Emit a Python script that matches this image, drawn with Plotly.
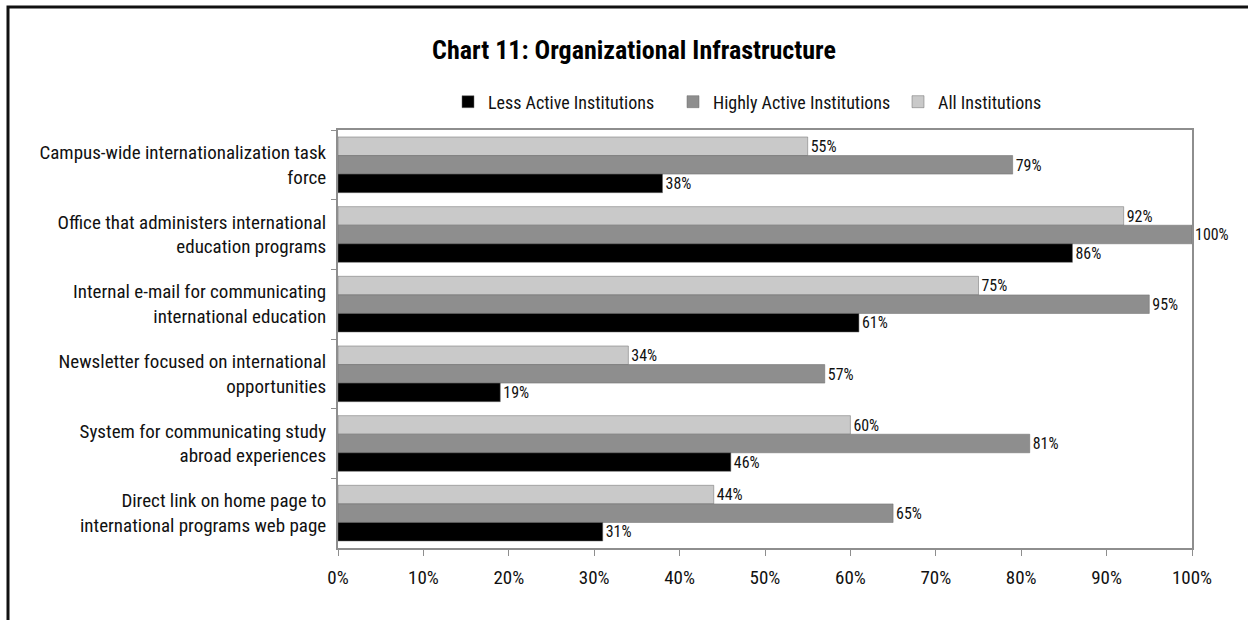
import plotly.graph_objects as go

categories = [
    "Campus-wide internationalization task<br>force",
    "Office that administers international<br>education programs",
    "Internal e-mail for communicating<br>international education",
    "Newsletter focused on international<br>opportunities",
    "System for communicating study<br>abroad experiences",
    "Direct link on home page to<br>international programs web page",
]
less_active = [0.38, 0.86, 0.61, 0.19, 0.46, 0.31]
highly_active = [0.79, 1.00, 0.95, 0.57, 0.81, 0.65]
all_inst = [0.55, 0.92, 0.75, 0.34, 0.60, 0.44]

# drawn top-to-bottom within each group: All, Highly, Less
series = [
    ("All Institutions", all_inst, "#c9c9c9"),
    ("Highly Active Institutions", highly_active, "#8e8e8e"),
    ("Less Active Institutions", less_active, "#000000"),
]

FONT = "Roboto Condensed, Liberation Sans Narrow, DejaVu Sans Condensed, Arial Narrow, sans-serif"

fig = go.Figure()
for name, vals, col in series:
    fig.add_trace(go.Bar(
        y=categories, x=vals, name=name, orientation="h",
        marker=dict(color=col, line=dict(color="#6a6a6a", width=0.5)),
        texttemplate="%{x:.0%}", textposition="outside",
        textfont=dict(size=18, color="#111111", family=FONT),
        cliponaxis=False,
    ))

W, H = 1248, 620
L, R, T, B = 338, 56, 130, 72
pw, ph = W - L - R, H - T - B

def px_to_paper_x(px):
    return (px - L) / pw

def px_to_paper_y(py):
    return 1 + (T - py) / ph

fig.update_layout(
    width=W, height=H,
    margin=dict(l=L, r=R, t=T, b=B),
    paper_bgcolor="white", plot_bgcolor="white",
    font=dict(family=FONT, size=18, color="#111111"),
    barmode="group", bargap=0.2, bargroupgap=0,
    title=dict(text="<b>Chart 11: Organizational Infrastructure</b>",
               x=634 / W, xanchor="center", y=1 - 50 / H, yanchor="middle",
               font=dict(family=FONT, size=26, color="#000000")),
    legend=dict(orientation="h", x=px_to_paper_x(448), xanchor="left",
                y=px_to_paper_y(102), yanchor="middle",
                font=dict(size=18, family=FONT), traceorder="reversed",
                itemwidth=30, entrywidth=180, entrywidthmode="pixels",
                bgcolor="rgba(0,0,0,0)"),
    showlegend=True,
)
fig.update_xaxes(range=[0, 1], dtick=0.1, tickformat=".0%", showgrid=False,
                 zeroline=False, showline=True, mirror=True, linecolor="#8e8e8e",
                 linewidth=2, ticks="outside", ticklen=6, tickcolor="#8e8e8e",
                 tickfont=dict(size=19), ticklabelstandoff=5, fixedrange=True)
fig.update_yaxes(autorange="reversed", showgrid=False, showline=True, mirror=True,
                 linecolor="#8e8e8e", linewidth=2, ticks="outside", ticklen=5,
                 tickcolor="#8e8e8e", tickson="boundaries", tickfont=dict(size=19),
                 ticklabelstandoff=6)

# outer frame (left and top visible in the reference)
fig.add_shape(type="rect", xref="paper", yref="paper",
              x0=px_to_paper_x(8), x1=px_to_paper_x(W + 20),
              y0=px_to_paper_y(H + 20), y1=px_to_paper_y(7),
              line=dict(color="#111111", width=3), fillcolor="rgba(0,0,0,0)",
              layer="below")

fig.write_html("out.html", config={"displayModeBar": False},
               post_script="document.body.style.margin='0';document.body.style.overflow='hidden';")
